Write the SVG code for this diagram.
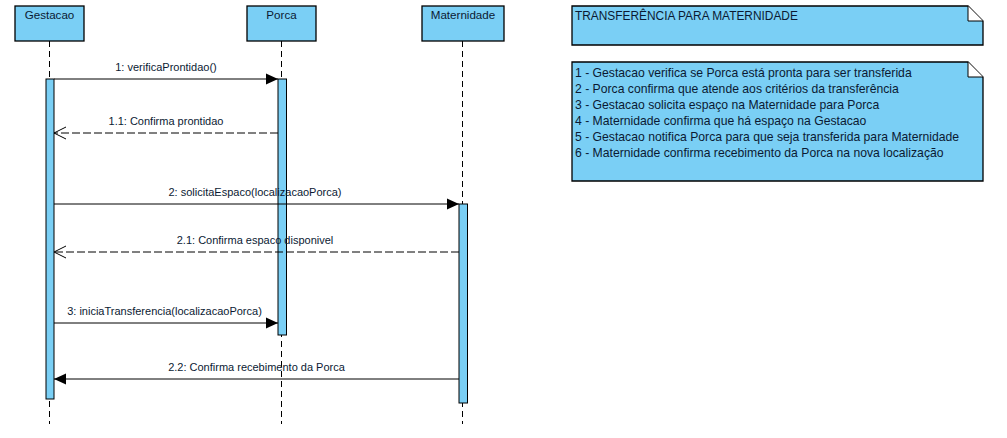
<svg xmlns="http://www.w3.org/2000/svg" width="1007" height="438" viewBox="0 0 1007 438">
<defs>
<style>
.box{fill:#7ACFF5;stroke:#000;stroke-width:1.3}
.life{stroke:#000;stroke-width:1;stroke-dasharray:6,4;fill:none}
.act{fill:#7ACFF5;stroke:#000;stroke-width:1}
.msg{stroke:#000;stroke-width:1;fill:none}
.ret{stroke:#000;stroke-width:1;fill:none;stroke-dasharray:8,3}
text{font-family:"Liberation Sans",Arial,sans-serif;font-size:11px;fill:#0B1A33}
.c{text-anchor:middle}
.h{font-size:11.6px}
.n{font-size:12.2px}
.t{font-size:11.9px}
</style>
<marker id="fill" markerWidth="14" markerHeight="12" refX="13" refY="6" orient="auto" markerUnits="userSpaceOnUse">
<path d="M1,0.5 L13,6 L1,11.5 Z" fill="#000"/>
</marker>
<marker id="open" markerWidth="14" markerHeight="14" refX="13" refY="7" orient="auto" markerUnits="userSpaceOnUse">
<path d="M1,1 L13,7 L1,13" fill="none" stroke="#000" stroke-width="1"/>
</marker>
</defs>
<rect width="1007" height="438" fill="#fff"/>

<g id="gestacao">
<rect class="box" x="15" y="6" width="69" height="35"/>
<text class="c h" x="49.5" y="19">Gestacao</text>
<line class="life" x1="49.5" y1="41" x2="49.5" y2="424"/>
<rect class="act" x="46" y="79" width="8" height="320"/>
</g>

<g id="porca">
<rect class="box" x="247" y="6" width="69" height="35"/>
<text class="c h" x="281.5" y="19">Porca</text>
<line class="life" x1="281.5" y1="41" x2="281.5" y2="424"/>
<rect class="act" x="278" y="79" width="8.5" height="256"/>
</g>

<g id="maternidade">
<rect class="box" x="422" y="6" width="82" height="35"/>
<text class="c h" x="463" y="19">Maternidade</text>
<line class="life" x1="462.5" y1="41" x2="462.5" y2="424"/>
<rect class="act" x="459" y="204" width="8.5" height="199"/>
</g>

<g id="connectors">
<line class="msg" x1="54" y1="79" x2="278" y2="79" marker-end="url(#fill)"/>
<text class="c" x="166" y="71">1: verificaProntidao()</text>

<line class="ret" x1="278" y1="133" x2="54" y2="133" marker-end="url(#open)"/>
<text class="c" x="166" y="125">1.1: Confirma prontidao</text>

<line class="msg" x1="54" y1="204" x2="459" y2="204" marker-end="url(#fill)"/>
<text class="c" x="255" y="196">2: solicitaEspaco(localizacaoPorca)</text>

<line class="ret" x1="459" y1="252" x2="54" y2="252" marker-end="url(#open)"/>
<text class="c" x="255" y="244">2.1: Confirma espaco disponivel</text>

<line class="msg" x1="54" y1="323" x2="278" y2="323" marker-end="url(#fill)"/>
<text class="c" x="164.5" y="315">3: iniciaTransferencia(localizacaoPorca)</text>

<line class="msg" x1="459" y1="379" x2="54" y2="379" marker-end="url(#fill)"/>
<text class="c" x="256.5" y="371">2.2: Confirma recebimento da Porca</text>
</g>

<g id="note-title">
<path class="box" d="M572,6 L968,6 L983,21 L983,45 L572,45 Z"/>
<path d="M968,6 L968,21 L983,21" fill="#fff" stroke="#000" stroke-width="1"/>
<text class="t" x="575" y="20">TRANSFERÊNCIA PARA MATERNIDADE</text>
</g>

<g id="note-steps">
<path class="box" d="M572,62 L968,62 L983,77 L983,181 L572,181 Z"/>
<path d="M968,62 L968,77 L983,77" fill="#fff" stroke="#000" stroke-width="1"/>
<text class="n" x="575" y="77">1 - Gestacao verifica se Porca está pronta para ser transferida</text>
<text class="n" x="575" y="93">2 - Porca confirma que atende aos critérios da transferência</text>
<text class="n" x="575" y="109">3 - Gestacao solicita espaço na Maternidade para Porca</text>
<text class="n" x="575" y="125">4 - Maternidade confirma que há espaço na Gestacao</text>
<text class="n" x="575" y="141">5 - Gestacao notifica Porca para que seja transferida para Maternidade</text>
<text class="n" x="575" y="157">6 - Maternidade confirma recebimento da Porca na nova localização</text>
</g>
</svg>
